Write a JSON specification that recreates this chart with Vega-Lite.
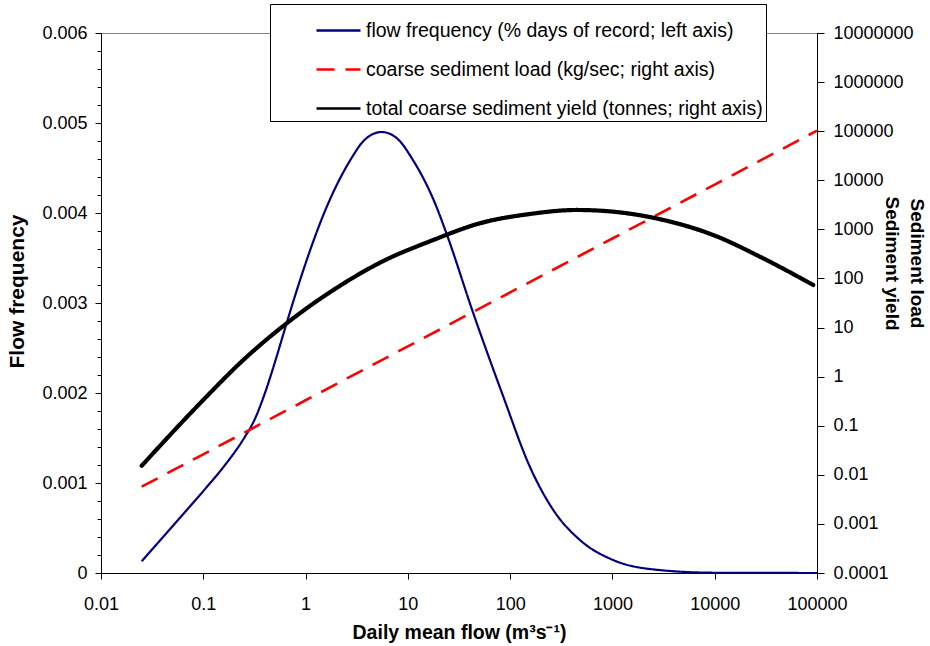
{
  "$schema": "https://vega.github.io/schema/vega-lite/v6.json",
  "width": 716,
  "height": 540,
  "autosize": "none",
  "padding": {"left": 101, "top": 33, "right": 113, "bottom": 73},
  "background": "white",
  "config": {
    "font": "Liberation Sans",
    "view": {"stroke": "#808080", "strokeWidth": 1},
    "axis": {
      "grid": false,
      "labelFlush": false,
      "labelOverlap": false,
      "domainColor": "black",
      "tickColor": "black",
      "labelColor": "black",
      "titleColor": "black",
      "labelFont": "Liberation Sans",
      "titleFont": "Liberation Sans",
      "labelFontSize": 18,
      "titleFontSize": 19,
      "titleFontWeight": "bold",
      "domainWidth": 1,
      "tickWidth": 1
    },
    "legend": {
      "orient": "none",
      "legendX": 169,
      "legendY": -29,
      "direction": "vertical",
      "title": null,
      "labelFont": "Liberation Sans",
      "labelFontSize": 19.5,
      "labelColor": "black",
      "labelLimit": 600,
      "labelOffset": 4,
      "symbolType": "stroke",
      "symbolSize": 1936,
      "symbolOffset": 42,
      "symbolStrokeWidth": 2.6,
      "padding": 3,
      "rowPadding": 6,
      "strokeColor": "black",
      "fillColor": "white"
    }
  },
  "encoding": {
    "x": {
      "field": "flow",
      "type": "quantitative",
      "scale": {"type": "log", "domain": [0.01, 100000]},
      "axis": {
        "values": [0.01, 0.1, 1, 10, 100, 1000, 10000, 100000],
        "format": "~f",
        "tickSize": 6,
        "labelPadding": 16,
        "title": "Daily mean flow (m³s⁻¹)",
        "titleFontSize": 19.5,
        "titlePadding": 10
      }
    }
  },
  "layer": [
    {
      "data": {
        "values": [
          {"flow": 0.025, "value": 0.00013, "series": "flow frequency (% days of record; left axis)"},
          {"flow": 0.0501, "value": 0.00052, "series": "flow frequency (% days of record; left axis)"},
          {"flow": 0.1, "value": 0.00091, "series": "flow frequency (% days of record; left axis)"},
          {"flow": 0.158, "value": 0.00118, "series": "flow frequency (% days of record; left axis)"},
          {"flow": 0.251, "value": 0.0015, "series": "flow frequency (% days of record; left axis)"},
          {"flow": 0.316, "value": 0.0017, "series": "flow frequency (% days of record; left axis)"},
          {"flow": 0.398, "value": 0.00199, "series": "flow frequency (% days of record; left axis)"},
          {"flow": 0.501, "value": 0.00234, "series": "flow frequency (% days of record; left axis)"},
          {"flow": 0.631, "value": 0.00272, "series": "flow frequency (% days of record; left axis)"},
          {"flow": 0.794, "value": 0.00309, "series": "flow frequency (% days of record; left axis)"},
          {"flow": 1, "value": 0.00344, "series": "flow frequency (% days of record; left axis)"},
          {"flow": 1.585, "value": 0.00405, "series": "flow frequency (% days of record; left axis)"},
          {"flow": 2.92, "value": 0.00464, "series": "flow frequency (% days of record; left axis)"},
          {"flow": 3.49, "value": 0.00477, "series": "flow frequency (% days of record; left axis)"},
          {"flow": 4.27, "value": 0.00486, "series": "flow frequency (% days of record; left axis)"},
          {"flow": 5.53, "value": 0.0049, "series": "flow frequency (% days of record; left axis)"},
          {"flow": 7.2, "value": 0.00486, "series": "flow frequency (% days of record; left axis)"},
          {"flow": 8.77, "value": 0.00477, "series": "flow frequency (% days of record; left axis)"},
          {"flow": 10.5, "value": 0.00464, "series": "flow frequency (% days of record; left axis)"},
          {"flow": 18.4, "value": 0.00411, "series": "flow frequency (% days of record; left axis)"},
          {"flow": 23.9, "value": 0.00377, "series": "flow frequency (% days of record; left axis)"},
          {"flow": 43.5, "value": 0.00289, "series": "flow frequency (% days of record; left axis)"},
          {"flow": 85.7, "value": 0.00196, "series": "flow frequency (% days of record; left axis)"},
          {"flow": 156, "value": 0.00118, "series": "flow frequency (% days of record; left axis)"},
          {"flow": 264, "value": 0.0007, "series": "flow frequency (% days of record; left axis)"},
          {"flow": 481, "value": 0.000367, "series": "flow frequency (% days of record; left axis)"},
          {"flow": 1018, "value": 0.000144, "series": "flow frequency (% days of record; left axis)"},
          {"flow": 2506, "value": 0.00004, "series": "flow frequency (% days of record; left axis)"},
          {"flow": 9660, "value": 0.000003, "series": "flow frequency (% days of record; left axis)"},
          {"flow": 100000, "value": 0, "series": "flow frequency (% days of record; left axis)"}
        ]
      },
      "mark": {"type": "line", "interpolate": "monotone", "strokeWidth": 2.2},
      "encoding": {
        "y": {
          "field": "value",
          "type": "quantitative",
          "scale": {"domain": [0, 0.006], "nice": false, "zero": true},
          "axis": {
            "orient": "left",
            "values": [0, 0.0002, 0.0004, 0.0006, 0.0008, 0.001, 0.0012, 0.0014, 0.0016, 0.0018, 0.002, 0.0022, 0.0024, 0.0026, 0.0028, 0.003, 0.0032, 0.0034, 0.0036, 0.0038, 0.004, 0.0042, 0.0044, 0.0046, 0.0048, 0.005, 0.0052, 0.0054, 0.0056, 0.0058, 0.006],
            "labelExpr": "abs(datum.value * 1000 - round(datum.value * 1000)) < 0.000001 ? format(datum.value, '~f') : ''",
            "tickSize": {"condition": {"test": "abs(datum.value * 1000 - round(datum.value * 1000)) < 0.000001", "value": 6}, "value": 4},
            "labelPadding": 8,
            "title": "Flow frequency",
            "titleFontSize": 21,
            "titlePadding": 14,
            "titleY": 258
          }
        },
        "color": {
          "field": "series",
          "type": "nominal",
          "scale": {
            "domain": ["flow frequency (% days of record; left axis)", "coarse sediment load (kg/sec; right axis)", "total coarse sediment yield (tonnes; right axis)"],
            "range": ["#000080", "#ff0000", "#000000"]
          }
        },
        "strokeDash": {
          "field": "series",
          "type": "nominal",
          "scale": {
            "domain": ["flow frequency (% days of record; left axis)", "coarse sediment load (kg/sec; right axis)", "total coarse sediment yield (tonnes; right axis)"],
            "range": [[1, 0], [18, 11], [1, 0]]
          }
        }
      }
    },
    {
      "encoding": {
        "y": {
          "field": "value",
          "type": "quantitative",
          "scale": {"type": "log", "domain": [0.0001, 10000000], "nice": false},
          "axis": {
            "orient": "right",
            "values": [0.0001, 0.001, 0.01, 0.1, 1, 10, 100, 1000, 10000, 100000, 1000000, 10000000],
            "format": "~f",
            "tickSize": 7,
            "labelPadding": 9,
            "title": ["Sediment load", "Sediment yield"],
            "titleFontSize": 19,
            "titleLineHeight": 25,
            "titleAngle": 90,
            "titleAlign": "center",
            "titleBaseline": "bottom",
            "titleX": 89,
            "titleY": 230
          }
        },
        "color": {
          "field": "series",
          "type": "nominal",
          "scale": {
            "domain": ["flow frequency (% days of record; left axis)", "coarse sediment load (kg/sec; right axis)", "total coarse sediment yield (tonnes; right axis)"],
            "range": ["#000080", "#ff0000", "#000000"]
          }
        },
        "strokeDash": {
          "field": "series",
          "type": "nominal",
          "scale": {
            "domain": ["flow frequency (% days of record; left axis)", "coarse sediment load (kg/sec; right axis)", "total coarse sediment yield (tonnes; right axis)"],
            "range": [[1, 0], [18, 11], [1, 0]]
          }
        }
      },
      "layer": [
        {
          "data": {
            "values": [
              {"flow": 0.025, "value": 0.00573, "series": "coarse sediment load (kg/sec; right axis)"},
              {"flow": 0.1, "value": 0.0262, "series": "coarse sediment load (kg/sec; right axis)"},
              {"flow": 1, "value": 0.33, "series": "coarse sediment load (kg/sec; right axis)"},
              {"flow": 10, "value": 4.14, "series": "coarse sediment load (kg/sec; right axis)"},
              {"flow": 100, "value": 52, "series": "coarse sediment load (kg/sec; right axis)"},
              {"flow": 1000, "value": 652, "series": "coarse sediment load (kg/sec; right axis)"},
              {"flow": 10000, "value": 8180, "series": "coarse sediment load (kg/sec; right axis)"},
              {"flow": 100000, "value": 102600, "series": "coarse sediment load (kg/sec; right axis)"}
            ]
          },
          "mark": {"type": "line", "strokeWidth": 2.6}
        },
        {
          "data": {
            "values": [
              {"flow": 0.025, "value": 0.0153, "series": "total coarse sediment yield (tonnes; right axis)"},
              {"flow": 0.0929, "value": 0.286, "series": "total coarse sediment yield (tonnes; right axis)"},
              {"flow": 0.246, "value": 2.18, "series": "total coarse sediment yield (tonnes; right axis)"},
              {"flow": 0.653, "value": 12.2, "series": "total coarse sediment yield (tonnes; right axis)"},
              {"flow": 1.87, "value": 58.2, "series": "total coarse sediment yield (tonnes; right axis)"},
              {"flow": 5.33, "value": 209, "series": "total coarse sediment yield (tonnes; right axis)"},
              {"flow": 17.7, "value": 607, "series": "total coarse sediment yield (tonnes; right axis)"},
              {"flow": 50.7, "value": 1330, "series": "total coarse sediment yield (tonnes; right axis)"},
              {"flow": 156, "value": 2056, "series": "total coarse sediment yield (tonnes; right axis)"},
              {"flow": 447, "value": 2483, "series": "total coarse sediment yield (tonnes; right axis)"},
              {"flow": 1019, "value": 2291, "series": "total coarse sediment yield (tonnes; right axis)"},
              {"flow": 3141, "value": 1552, "series": "total coarse sediment yield (tonnes; right axis)"},
              {"flow": 9660, "value": 767, "series": "total coarse sediment yield (tonnes; right axis)"},
              {"flow": 29785, "value": 257, "series": "total coarse sediment yield (tonnes; right axis)"},
              {"flow": 91830, "value": 73.6, "series": "total coarse sediment yield (tonnes; right axis)"}
            ]
          },
          "mark": {"type": "line", "interpolate": "monotone", "strokeCap": "round", "strokeWidth": 4.2}
        }
      ]
    }
  ],
  "resolve": {"scale": {"y": "independent"}}
}
